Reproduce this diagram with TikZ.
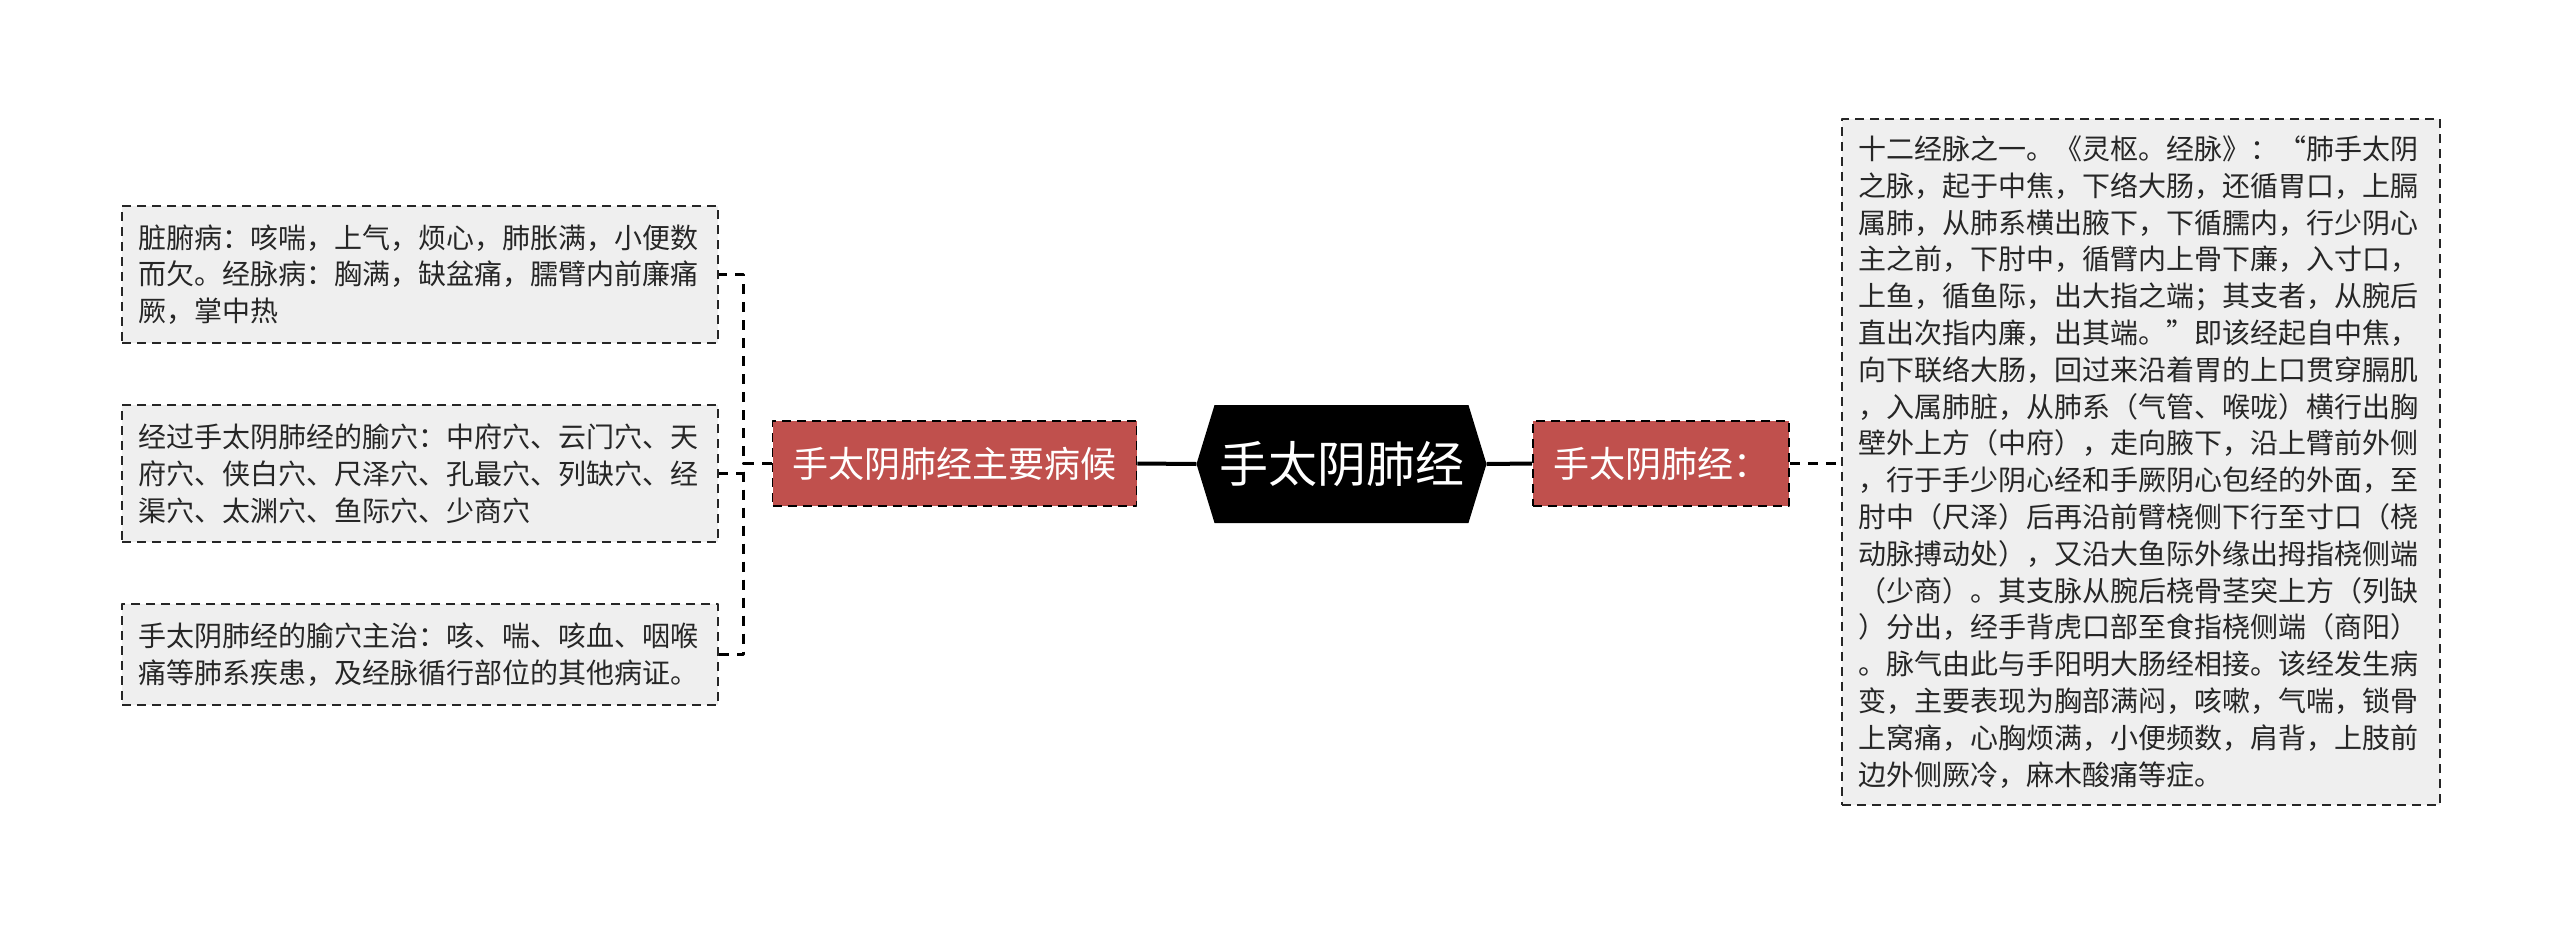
\documentclass[tikz,border=0pt]{standalone}
\usepackage{fontspec}
\newfontfamily\cjk{Noto Sans CJK SC}
\usetikzlibrary{shapes.symbols}
\definecolor{boxred}{RGB}{192,80,77}
\definecolor{boxgrey}{RGB}{239,239,239}
\begin{document}
\begin{tikzpicture}[x=1pt,y=-1pt,line join=round,
	leaf/.style={draw=black!85,dashed,dash pattern=on 9pt off 6pt,line width=1.8pt,fill=boxgrey,
		font=\cjk\fontsize{28pt}{36.8pt}\selectfont,text=black!85,align=left,
		text width=564pt,inner xsep=16pt,inner ysep=0pt,anchor=center},
	tag/.style={draw=black,dashed,dash pattern=on 9pt off 6pt,line width=1.8pt,fill=boxred,
		font=\cjk\fontsize{36pt}{40pt}\selectfont,text=white,minimum height=85pt,inner xsep=20pt},
	hexa/.style={signal,signal to=west and east,signal pointer angle=146,fill=black,
		font=\cjk\fontsize{49pt}{52pt}\selectfont,text=white,minimum width=290pt,minimum height=118pt,inner xsep=0pt},
	conn/.style={draw=black,dashed,dash pattern=on 10pt off 8pt,line width=2.4pt},
	link/.style={draw=black,line width=4pt}]
	\useasboundingbox (0,0) rectangle (2560,929);
	% centre and the two branches
	\node[hexa] (main) at (1341.5,464) {手太阴肺经};
	\node[tag] (ill) at (954.5,463.5) {手太阴肺经主要病候};
	\node[tag] (meridian) at (1661,463.5) {手太阴肺经：};
	\draw[link] (ill.east)--(main.west);
	\draw[link] (main.east)--(meridian.west);
	% left leaves
	\node[leaf,minimum height=137pt] (b1) at (420,274.5) {脏腑病：咳喘，上气，烦心，肺胀满，小便数\\而欠。经脉病：胸满，缺盆痛，臑臂内前廉痛\\厥，掌中热};
	\node[leaf,minimum height=137pt] (b2) at (420,473.5) {经过手太阴肺经的腧穴：中府穴、云门穴、天\\府穴、侠白穴、尺泽穴、孔最穴、列缺穴、经\\渠穴、太渊穴、鱼际穴、少商穴};
	\node[leaf,minimum height=101pt] (b3) at (420,654.5) {手太阴肺经的腧穴主治：咳、喘、咳血、咽喉\\痛等肺系疾患，及经脉循行部位的其他病证。};
	\foreach \b in {b1,b2,b3}
	\draw[conn] (ill.west)--++(-28,0) |- (\b.east);
	% right leaf
	\node[leaf,text width=566pt,minimum height=686pt] (detail) at (2141,462) {十二经脉之一。《灵枢。经脉》：“肺手太阴\\之脉，起于中焦，下络大肠，还循胃口，上膈\\属肺，从肺系横出腋下，下循臑内，行少阴心\\主之前，下肘中，循臂内上骨下廉，入寸口，\\上鱼，循鱼际，出大指之端；其支者，从腕后\\直出次指内廉，出其端。”即该经起自中焦，\\向下联络大肠，回过来沿着胃的上口贯穿膈肌\\，入属肺脏，从肺系（气管、喉咙）横行出胸\\壁外上方（中府），走向腋下，沿上臂前外侧\\，行于手少阴心经和手厥阴心包经的外面，至\\肘中（尺泽）后再沿前臂桡侧下行至寸口（桡\\动脉搏动处），又沿大鱼际外缘出拇指桡侧端\\（少商）。其支脉从腕后桡骨茎突上方（列缺\\）分出，经手背虎口部至食指桡侧端（商阳）\\。脉气由此与手阳明大肠经相接。该经发生病\\变，主要表现为胸部满闷，咳嗽，气喘，锁骨\\上窝痛，心胸烦满，小便频数，肩背，上肢前\\边外侧厥冷，麻木酸痛等症。};
	\draw[conn] (meridian.east)--(meridian.east-|detail.west);
\end{tikzpicture}
\end{document}
